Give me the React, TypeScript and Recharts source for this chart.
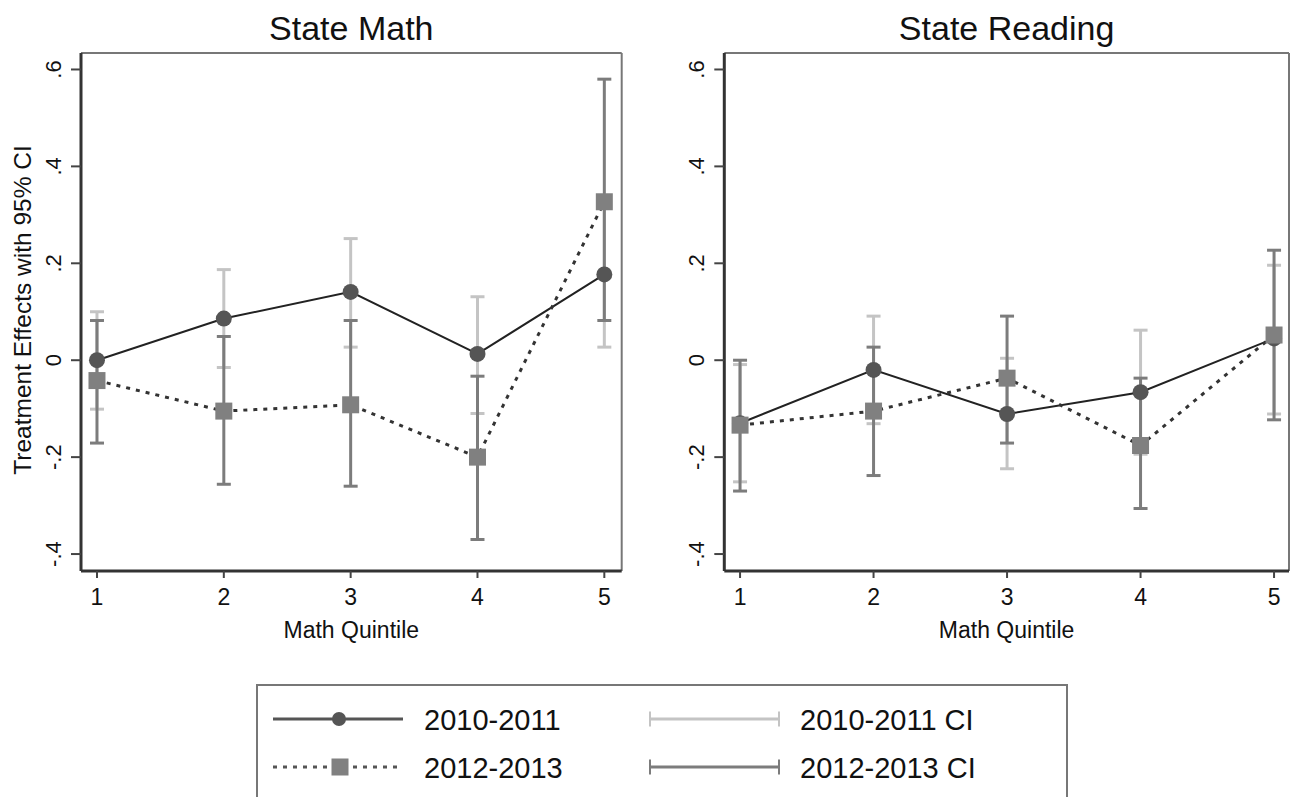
import React from "react";
import { ComposedChart, Line, Scatter, ErrorBar, XAxis, YAxis, ReferenceLine } from "recharts";

// quintiles and axis ticks
const quintiles = [1, 2, 3, 4, 5];
const yTicks = [-0.4, -0.2, 0, 0.2, 0.4, 0.6];
const yTickLabels = ["-.4", "-.2", "0", ".2", ".4", ".6"];

// State Math: point estimates and 95% CI bounds
const math2010 = [0.0, 0.086, 0.141, 0.013, 0.177];
const math2010Lo = [-0.101, -0.015, 0.027, -0.11, 0.027];
const math2010Hi = [0.1, 0.187, 0.251, 0.131, 0.327];
const math2012 = [-0.042, -0.105, -0.092, -0.2, 0.327];
const math2012Lo = [-0.171, -0.256, -0.26, -0.37, 0.082];
const math2012Hi = [0.082, 0.049, 0.082, -0.033, 0.58];

// State Reading
const read2010 = [-0.13, -0.02, -0.111, -0.066, 0.045];
const read2010Lo = [-0.251, -0.131, -0.224, -0.194, -0.111];
const read2010Hi = [-0.009, 0.091, 0.004, 0.062, 0.196];
const read2012 = [-0.134, -0.105, -0.037, -0.176, 0.052];
const read2012Lo = [-0.27, -0.238, -0.171, -0.306, -0.123];
const read2012Hi = [0.0, 0.027, 0.091, -0.037, 0.227];

const FONT = "'Liberation Sans', Arial, Helvetica, sans-serif";
const Y_DOMAIN: [number, number] = [-0.435, 0.634];
const LIGHT = "#c4c4c4";
const DARK = "#7c7c7c";

function buildRows(e10: number[], lo10: number[], hi10: number[], e12: number[], lo12: number[], hi12: number[]) {
  return quintiles.map((q, i) => ({
    x: q,
    e10: e10[i],
    e12: e12[i],
    ci10: [e10[i] - lo10[i], hi10[i] - e10[i]],
    ci12: [e12[i] - lo12[i], hi12[i] - e12[i]],
  }));
}

const YTick = (props: any) => {
  const { x, y, payload } = props;
  return (
    <text x={x} y={y} transform={`rotate(-90 ${x} ${y})`} textAnchor="middle" fontSize={22} fill="#111" fontFamily={FONT}>
      {yTickLabels[yTicks.indexOf(payload.value)]}
    </text>
  );
};

const CircleDot = (props: any) => {
  const { cx, cy, index } = props;
  if (cx == null || cy == null) return <g key={index} />;
  return <circle key={index} cx={cx} cy={cy} r={8} fill="#555" />;
};

const SquareDot = (props: any) => {
  const { cx, cy, index } = props;
  if (cx == null || cy == null) return <g key={index} />;
  return <rect key={index} x={cx - 8.5} y={cy - 8.5} width={17} height={17} fill="#808080" />;
};

interface PanelProps {
  rows: ReturnType<typeof buildRows>;
  xDomain: [number, number];
  width: number;
  yAxisWidth: number;
  marginRight: number;
}

function Panel({ rows, xDomain, width, yAxisWidth, marginRight }: PanelProps) {
  return (
    <ComposedChart width={width} height={650} data={rows} margin={{ top: 53, right: marginRight, bottom: 39, left: 0 }}>
      <XAxis
        type="number"
        dataKey="x"
        domain={xDomain}
        ticks={quintiles}
        allowDataOverflow
        height={40}
        tickSize={7}
        tickMargin={11}
        axisLine={{ stroke: "#333", strokeWidth: 3 }}
        tickLine={{ stroke: "#444", strokeWidth: 2 }}
        tick={{ fontSize: 23, fill: "#111", fontFamily: FONT }}
      />
      <YAxis
        type="number"
        domain={Y_DOMAIN}
        ticks={yTicks}
        allowDataOverflow
        width={yAxisWidth}
        tickSize={10}
        tickMargin={10}
        axisLine={{ stroke: "#333", strokeWidth: 3 }}
        tickLine={{ stroke: "#444", strokeWidth: 2 }}
        tick={<YTick />}
      />
      <ReferenceLine y={Y_DOMAIN[1]} stroke="#777" strokeWidth={2} />
      <ReferenceLine x={xDomain[1]} stroke="#777" strokeWidth={2} />
      <Scatter dataKey="e10" shape={() => <g />} isAnimationActive={false} zIndex={100}>
        <ErrorBar dataKey="ci10" direction="y" width={7} stroke={LIGHT} strokeWidth={3} isAnimationActive={false} />
      </Scatter>
      <Scatter dataKey="e12" shape={() => <g />} isAnimationActive={false} zIndex={110}>
        <ErrorBar dataKey="ci12" direction="y" width={7} stroke={DARK} strokeWidth={3} isAnimationActive={false} />
      </Scatter>
      <Line
        type="linear"
        dataKey="e10"
        stroke="#222"
        strokeWidth={2}
        dot={CircleDot}
        activeDot={false}
        isAnimationActive={false}
      />
      <Line
        type="linear"
        dataKey="e12"
        stroke="#333"
        strokeWidth={3}
        strokeDasharray="4 6"
        dot={SquareDot}
        activeDot={false}
        isAnimationActive={false}
      />
    </ComposedChart>
  );
}

export default function App() {
  const mathRows = buildRows(math2010, math2010Lo, math2010Hi, math2012, math2012Lo, math2012Hi);
  const readRows = buildRows(read2010, read2010Lo, read2010Hi, read2012, read2012Lo, read2012Hi);
  return (
    <div style={{ position: "absolute", left: 0, top: 0, width: 1294, height: 797, background: "#fff", overflow: "hidden", fontFamily: FONT }}>
      <div style={{ position: "absolute", left: 0, top: 0 }}>
        <Panel rows={mathRows} xDomain={[0.874, 5.137]} width={640} yAxisWidth={81} marginRight={18.3} />
      </div>
      <div style={{ position: "absolute", left: 640, top: 0 }}>
        <Panel rows={readRows} xDomain={[0.882, 5.112]} width={654} yAxisWidth={84.3} marginRight={5} />
      </div>
      <svg width={1294} height={797} style={{ position: "absolute", left: 0, top: 0, pointerEvents: "none" }} fontFamily={FONT}>
        <text x={351.3} y={40} textAnchor="middle" fontSize={34} fill="#111">State Math</text>
        <text x={1006.6} y={40} textAnchor="middle" fontSize={34} fill="#111">State Reading</text>
        <text x={31} y={310} transform="rotate(-90 31 310)" textAnchor="middle" fontSize={24.5} fill="#111">
          Treatment Effects with 95% CI
        </text>
        <text x={351.3} y={638} textAnchor="middle" fontSize={23} fill="#111">Math Quintile</text>
        <text x={1006.6} y={638} textAnchor="middle" fontSize={23} fill="#111">Math Quintile</text>

        <rect x={257} y={685} width={810} height={130} fill="none" stroke="#777" strokeWidth={2} />
        <line x1={273} y1={719} x2={403} y2={719} stroke="#555" strokeWidth={3} />
        <circle cx={339} cy={719} r={7} fill="#555" />
        <text x={424} y={730} fontSize={29} fill="#111">2010-2011</text>
        <line x1={273} y1={767} x2={403} y2={767} stroke="#555" strokeWidth={3} strokeDasharray="4 6" />
        <rect x={331.5} y={758.5} width={17} height={17} fill="#808080" />
        <text x={424} y={778} fontSize={29} fill="#111">2012-2013</text>

        <line x1={649} y1={719} x2={780} y2={719} stroke={LIGHT} strokeWidth={3} />
        <line x1={650} y1={711.5} x2={650} y2={726.5} stroke={LIGHT} strokeWidth={2} />
        <line x1={779} y1={711.5} x2={779} y2={726.5} stroke={LIGHT} strokeWidth={2} />
        <text x={800} y={730} fontSize={29} fill="#111">2010-2011 CI</text>
        <line x1={649} y1={767} x2={780} y2={767} stroke={DARK} strokeWidth={3} />
        <line x1={650} y1={759.5} x2={650} y2={774.5} stroke={DARK} strokeWidth={2} />
        <line x1={779} y1={759.5} x2={779} y2={774.5} stroke={DARK} strokeWidth={2} />
        <text x={800} y={778} fontSize={29} fill="#111">2012-2013 CI</text>
      </svg>
    </div>
  );
}
